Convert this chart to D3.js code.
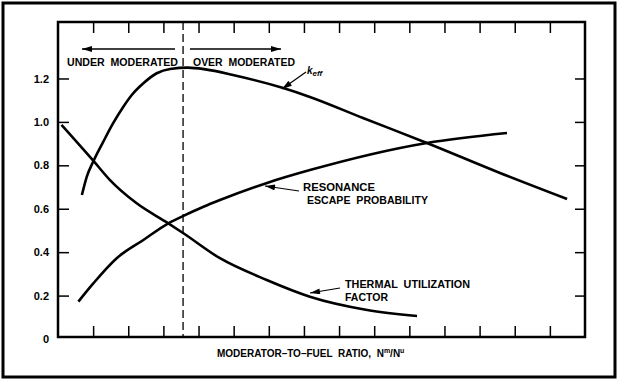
<!DOCTYPE html>
<html>
<head>
<meta charset="utf-8">
<script src="https://cdn.jsdelivr.net/npm/d3@7"></script>
<style>
  body { margin: 0; background: #fff; }
  svg { display: block; }
  text { font-family: "Liberation Sans", Arial, sans-serif; font-weight: bold; fill: #000; }
</style>
</head>
<body>
<div id="chart"></div>
<script>
// moderator-to-fuel ratio (arbitrary units, 0..15 across the plot) and curve values
const keffRatio = [0.68, 0.82, 1.01, 1.29, 1.57, 1.86, 2.10, 2.43, 2.81, 3.19, 3.70, 4.20, 4.98, 6.41, 7.17, 8.68, 10.50, 12.58, 14.49];
const keffValue = [0.663, 0.748, 0.820, 0.909, 0.994, 1.070, 1.124, 1.178, 1.224, 1.244, 1.250, 1.242, 1.216, 1.156, 1.115, 1.018, 0.903, 0.765, 0.645];

const resRatio = [0.58, 1.01, 1.67, 2.43, 3.14, 3.57, 4.14, 4.61, 5.95, 7.17, 10.50, 12.78];
const resValue = [0.172, 0.257, 0.372, 0.456, 0.533, 0.567, 0.609, 0.640, 0.719, 0.778, 0.903, 0.949];

const thermRatio = [0.10, 1.01, 1.48, 2.24, 3.14, 3.57, 4.61, 5.94, 7.17, 8.80, 10.22];
const thermValue = [0.986, 0.820, 0.732, 0.625, 0.533, 0.487, 0.372, 0.272, 0.195, 0.134, 0.106];

const yTicks = [0, 0.2, 0.4, 0.6, 0.8, 1.0, 1.2];
const xTicks = [1, 2, 3, 4, 5, 6, 7, 8, 9, 10, 11, 12, 13, 14];
const optimumRatio = 3.56;

const width = 619, height = 380;
const svg = d3.select('#chart').append('svg')
    .attr('width', width)
    .attr('height', height);

// arrowhead marker
svg.append('defs').append('marker')
    .attr('id', 'arrow')
    .attr('markerUnits', 'userSpaceOnUse')
    .attr('viewBox', '0 0 10 6')
    .attr('refX', 10).attr('refY', 3)
    .attr('markerWidth', 11).attr('markerHeight', 6)
    .attr('orient', 'auto')
    .append('path')
    .attr('d', 'M0,0 L10,3 L0,6 Z')
    .attr('fill', '#000');

// outer border
svg.append('rect')
    .attr('x', 3).attr('y', 3)
    .attr('width', 612).attr('height', 374)
    .attr('fill', 'none').attr('stroke', '#000').attr('stroke-width', 3);

const plot = { left: 58, right: 585, top: 22, bottom: 337 };

const x = d3.scaleLinear().domain([0, 15]).range([plot.left, plot.right]);
const y = d3.scaleLinear().domain([0, 1]).range([339, 121.9]);

// inward ticks on all four sides
svg.append('g')
    .attr('transform', `translate(${plot.left},0)`)
    .call(d3.axisLeft(y).tickValues(yTicks).tickSizeInner(-11).tickSizeOuter(0).tickPadding(9)
        .tickFormat(d => d === 0 ? '0' : d.toFixed(1)))
    .call(g => g.select('.domain').remove())
    .call(g => g.selectAll('.tick').filter(d => d === 0).select('line').remove())
    .call(g => g.selectAll('text').attr('font-size', 11).attr('font-family', null));

svg.append('g')
    .attr('transform', `translate(${plot.right},0)`)
    .call(d3.axisRight(y).tickValues(yTicks.slice(1)).tickSizeInner(-10).tickSizeOuter(0).tickFormat(''))
    .call(g => g.select('.domain').remove());

svg.append('g')
    .attr('transform', `translate(0,${plot.bottom})`)
    .call(d3.axisBottom(x).tickValues(xTicks).tickSizeInner(-11).tickSizeOuter(0).tickFormat(''))
    .call(g => g.select('.domain').remove());

svg.append('g')
    .attr('transform', `translate(0,${plot.top})`)
    .call(d3.axisTop(x).tickValues(xTicks).tickSizeInner(-11).tickSizeOuter(0).tickFormat(''))
    .call(g => g.select('.domain').remove());

svg.selectAll('.tick line').attr('stroke-width', 1.5);

// plot frame
svg.append('rect')
    .attr('x', plot.left).attr('y', plot.top)
    .attr('width', plot.right - plot.left).attr('height', plot.bottom - plot.top)
    .attr('fill', 'none').attr('stroke', '#000').attr('stroke-width', 2.5);

// optimum moderation dashed line
svg.append('line')
    .attr('x1', x(optimumRatio)).attr('x2', x(optimumRatio))
    .attr('y1', plot.top).attr('y2', plot.bottom)
    .attr('stroke', '#000').attr('stroke-width', 1.3)
    .attr('stroke-dasharray', '8,4');

// curves
const line = d3.line()
    .x(d => x(d[0]))
    .y(d => y(d[1]))
    .curve(d3.curveMonotoneX);

[[keffRatio, keffValue], [resRatio, resValue], [thermRatio, thermValue]].forEach(([xs, ys]) => {
    svg.append('path')
        .datum(d3.zip(xs, ys))
        .attr('d', line)
        .attr('fill', 'none')
        .attr('stroke', '#000')
        .attr('stroke-width', 2.6)
        .attr('stroke-linejoin', 'round');
});

// helpers for annotations
function label(txt, px, py, len, size) {
    return svg.append('text')
        .attr('x', px).attr('y', py)
        .attr('font-size', size || 10)
        .attr('textLength', len)
        .attr('lengthAdjust', 'spacingAndGlyphs')
        .style('white-space', 'pre')
        .text(txt);
}
function arrow(x1, y1, x2, y2, w) {
    svg.append('line')
        .attr('x1', x1).attr('y1', y1).attr('x2', x2).attr('y2', y2)
        .attr('stroke', '#000').attr('stroke-width', w || 1.2)
        .attr('marker-end', 'url(#arrow)');
}

// moderation regions
arrow(175, 49, 82, 49, 1.5);
arrow(190, 49, 281, 49, 1.5);
label('UNDER  MODERATED', 67, 66, 111);
label('OVER  MODERATED', 193, 66, 102);

// k_eff
arrow(306, 72, 282, 89);
const k = svg.append('text').attr('x', 307).attr('y', 74).attr('font-size', 10).attr('font-style', 'italic');
k.append('tspan').text('k');
k.append('tspan').attr('font-size', 8).attr('dy', 2).text('eff');

// resonance escape probability
arrow(299, 191, 265, 186);
label('RESONANCE', 303, 191, 72);
label('ESCAPE  PROBABILITY', 307, 204, 121);

// thermal utilization factor
arrow(340, 288, 310, 293);
label('THERMAL  UTILIZATION', 345, 288, 125);
label('FACTOR', 345, 301, 43);

// x-axis title
const xt = svg.append('text').attr('x', 217).attr('y', 357).attr('font-size', 10).style('white-space', 'pre');
xt.append('tspan').text('MODERATOR\u2013TO\u2013FUEL  RATIO,  N');
xt.append('tspan').attr('font-size', 7).attr('dy', -4).text('m');
xt.append('tspan').attr('dy', 4).text('/N');
xt.append('tspan').attr('font-size', 7).attr('dy', -4).text('u');
</script>
</body>
</html>
